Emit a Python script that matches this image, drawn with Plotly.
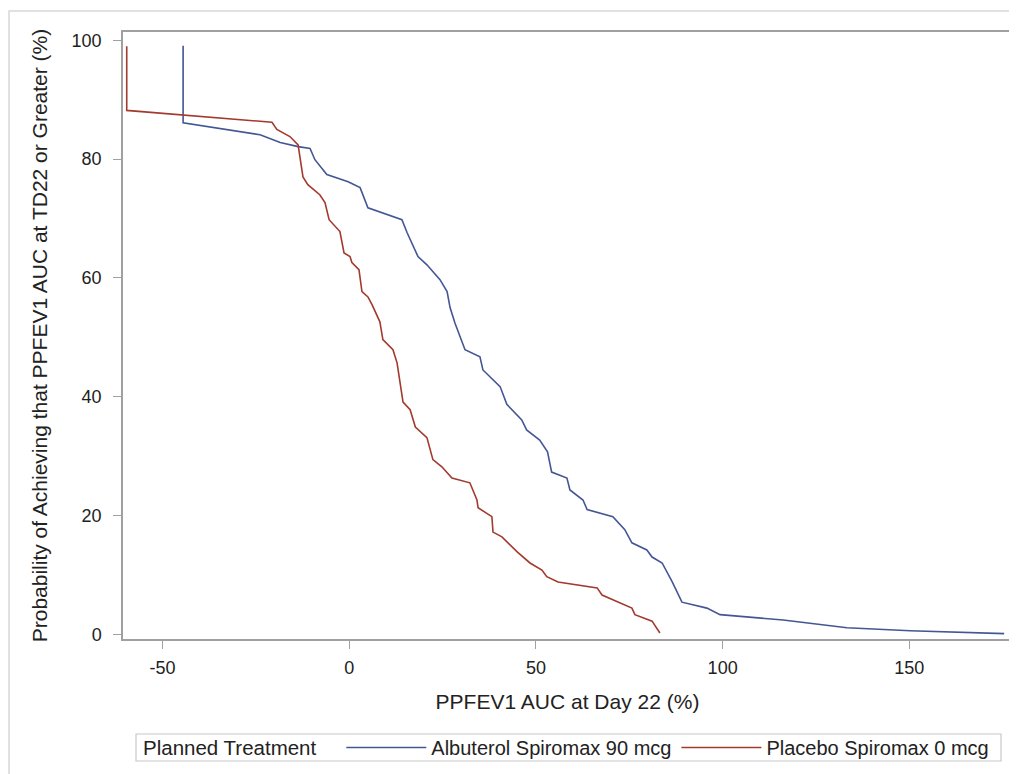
import plotly.graph_objects as go

# ---- data ----
series_names = ["Albuterol Spiromax 90 mcg", "Placebo Spiromax 0 mcg"]
series_colors = ["#445694", "#A23A2E"]

albuterol_x = [-44.5, -44.5, -23.9, -18.5, -13.7, -10.5, -9.2, -6.0, -0.3, 2.9, 5.0,
               14.1, 15.5, 18.4, 20.8, 24.3, 26.2, 27.0, 28.3, 31.0, 35.0, 35.8,
               40.4, 42.2, 46.2, 47.5, 51.0, 53.1, 54.2, 58.3, 59.1, 62.6, 63.7,
               70.6, 73.8, 75.7, 79.7, 81.1, 83.8, 86.5, 89.1, 95.8, 99.3, 116.2,
               133.3, 150.2, 175.4]
albuterol_y = [99.1, 86.1, 84.1, 82.8, 82.1, 81.8, 79.9, 77.4, 76.2, 75.2, 71.8,
               69.8, 67.6, 63.6, 62.2, 59.7, 57.7, 55.0, 52.4, 47.9, 46.7, 44.5,
               41.7, 38.7, 36.1, 34.4, 32.7, 30.7, 27.3, 26.3, 24.3, 22.6, 21.0,
               19.8, 17.6, 15.4, 14.2, 13.0, 12.0, 8.8, 5.4, 4.4, 3.3, 2.4,
               1.1, 0.6, 0.1]

placebo_x = [-59.6, -59.6, -20.7, -19.4, -15.9, -13.7, -12.4, -11.1, -7.9, -6.5, -5.4,
             -2.5, -1.4, 0.2, 0.7, 2.6, 3.4, 5.0, 6.1, 8.2, 9.0, 11.7, 12.8, 14.4,
             16.3, 17.7, 20.8, 22.4, 24.8, 27.5, 32.3, 34.2, 34.5, 38.2, 38.5, 40.9,
             44.9, 48.4, 51.6, 52.9, 55.9, 66.4, 67.7, 75.7, 76.5, 81.1, 83.2]
placebo_y = [99.0, 88.2, 86.2, 85.0, 83.8, 82.4, 77.0, 75.7, 74.0, 72.7, 69.8,
             67.8, 64.2, 63.6, 62.6, 61.4, 57.7, 56.8, 55.5, 52.6, 49.6, 47.9, 45.7, 39.1,
             37.8, 34.9, 33.1, 29.4, 28.2, 26.3, 25.5, 22.6, 21.3, 19.8, 17.2, 16.4,
             13.9, 12.0, 10.8, 9.7, 8.8, 7.8, 6.6, 4.4, 3.3, 2.2, 0.2]

x_ticks = [-50, 0, 50, 100, 150]
y_ticks = [0, 20, 40, 60, 80, 100]

x_title = "PPFEV1 AUC at Day 22 (%)"
y_title = "Probability of Achieving that PPFEV1 AUC at TD22 or Greater (%)"
legend_title = "Planned Treatment"

FONT = "Liberation Sans, Arial, sans-serif"
AXIS = "#A0A0A0"

fig = go.Figure()
for name, color, xs, ys in zip(series_names, series_colors,
                               [albuterol_x, placebo_x], [albuterol_y, placebo_y]):
    fig.add_trace(go.Scatter(x=xs, y=ys, mode="lines", name=name,
                             line=dict(color=color, width=1.6)))

# page body adds an 8px offset, so the figure is sized to fit the window
fig.update_layout(
    width=1009, height=766,
    margin=dict(l=115, r=5, t=24, b=135, autoexpand=False),
    paper_bgcolor="white", plot_bgcolor="white",
    font=dict(family=FONT, size=19, color="#222222"),
    showlegend=True,
    legend=dict(
        orientation="h", x=18 / 889, xanchor="left", y=-0.1787, yanchor="middle",
        title=dict(text=legend_title + "\u00a0\u00a0\u00a0", side="left",
                   font=dict(size=20.5)),
        font=dict(size=20), borderwidth=0, bgcolor="rgba(0,0,0,0)",
        itemwidth=80, tracegroupgap=0,
    ),
    xaxis=dict(
        range=[-60.6, 177.5], tickvals=x_ticks, ticktext=[str(v) for v in x_ticks],
        showgrid=False, zeroline=False, showline=True, linecolor=AXIS, linewidth=1.5,
        mirror=True, ticks="outside", ticklen=8, tickcolor=AXIS, tickwidth=1,
        tickfont=dict(size=18), ticklabelstandoff=4, automargin=False,
        title=dict(text=x_title, font=dict(size=21), standoff=17),
    ),
    yaxis=dict(
        range=[-0.8, 101.4], tickvals=y_ticks, ticktext=[str(v) for v in y_ticks],
        showgrid=False, zeroline=False, showline=True, linecolor=AXIS, linewidth=1.5,
        mirror=True, ticks="outside", ticklen=8, tickcolor=AXIS, tickwidth=1,
        tickfont=dict(size=18), ticklabelstandoff=8, automargin=False,
        title=dict(text=y_title, font=dict(size=21), standoff=18),
    ),
)

# outer graph border (only top/left visible in the reference)
fig.add_shape(type="rect", xref="paper", yref="paper",
              x0=-114 / 889, x1=1.05, y0=-0.3, y1=1 + 21 / 607,
              line=dict(color="#D8D8D8", width=1.5), fillcolor="rgba(0,0,0,0)", layer="below")
# legend frame
fig.add_shape(type="rect", xref="paper", yref="paper",
              x0=13 / 889, x1=878 / 889, y0=-122 / 607, y1=-95 / 607,
              line=dict(color="#C8C8C8", width=1.2), fillcolor="rgba(0,0,0,0)", layer="below")

fig.write_html("out.html")
